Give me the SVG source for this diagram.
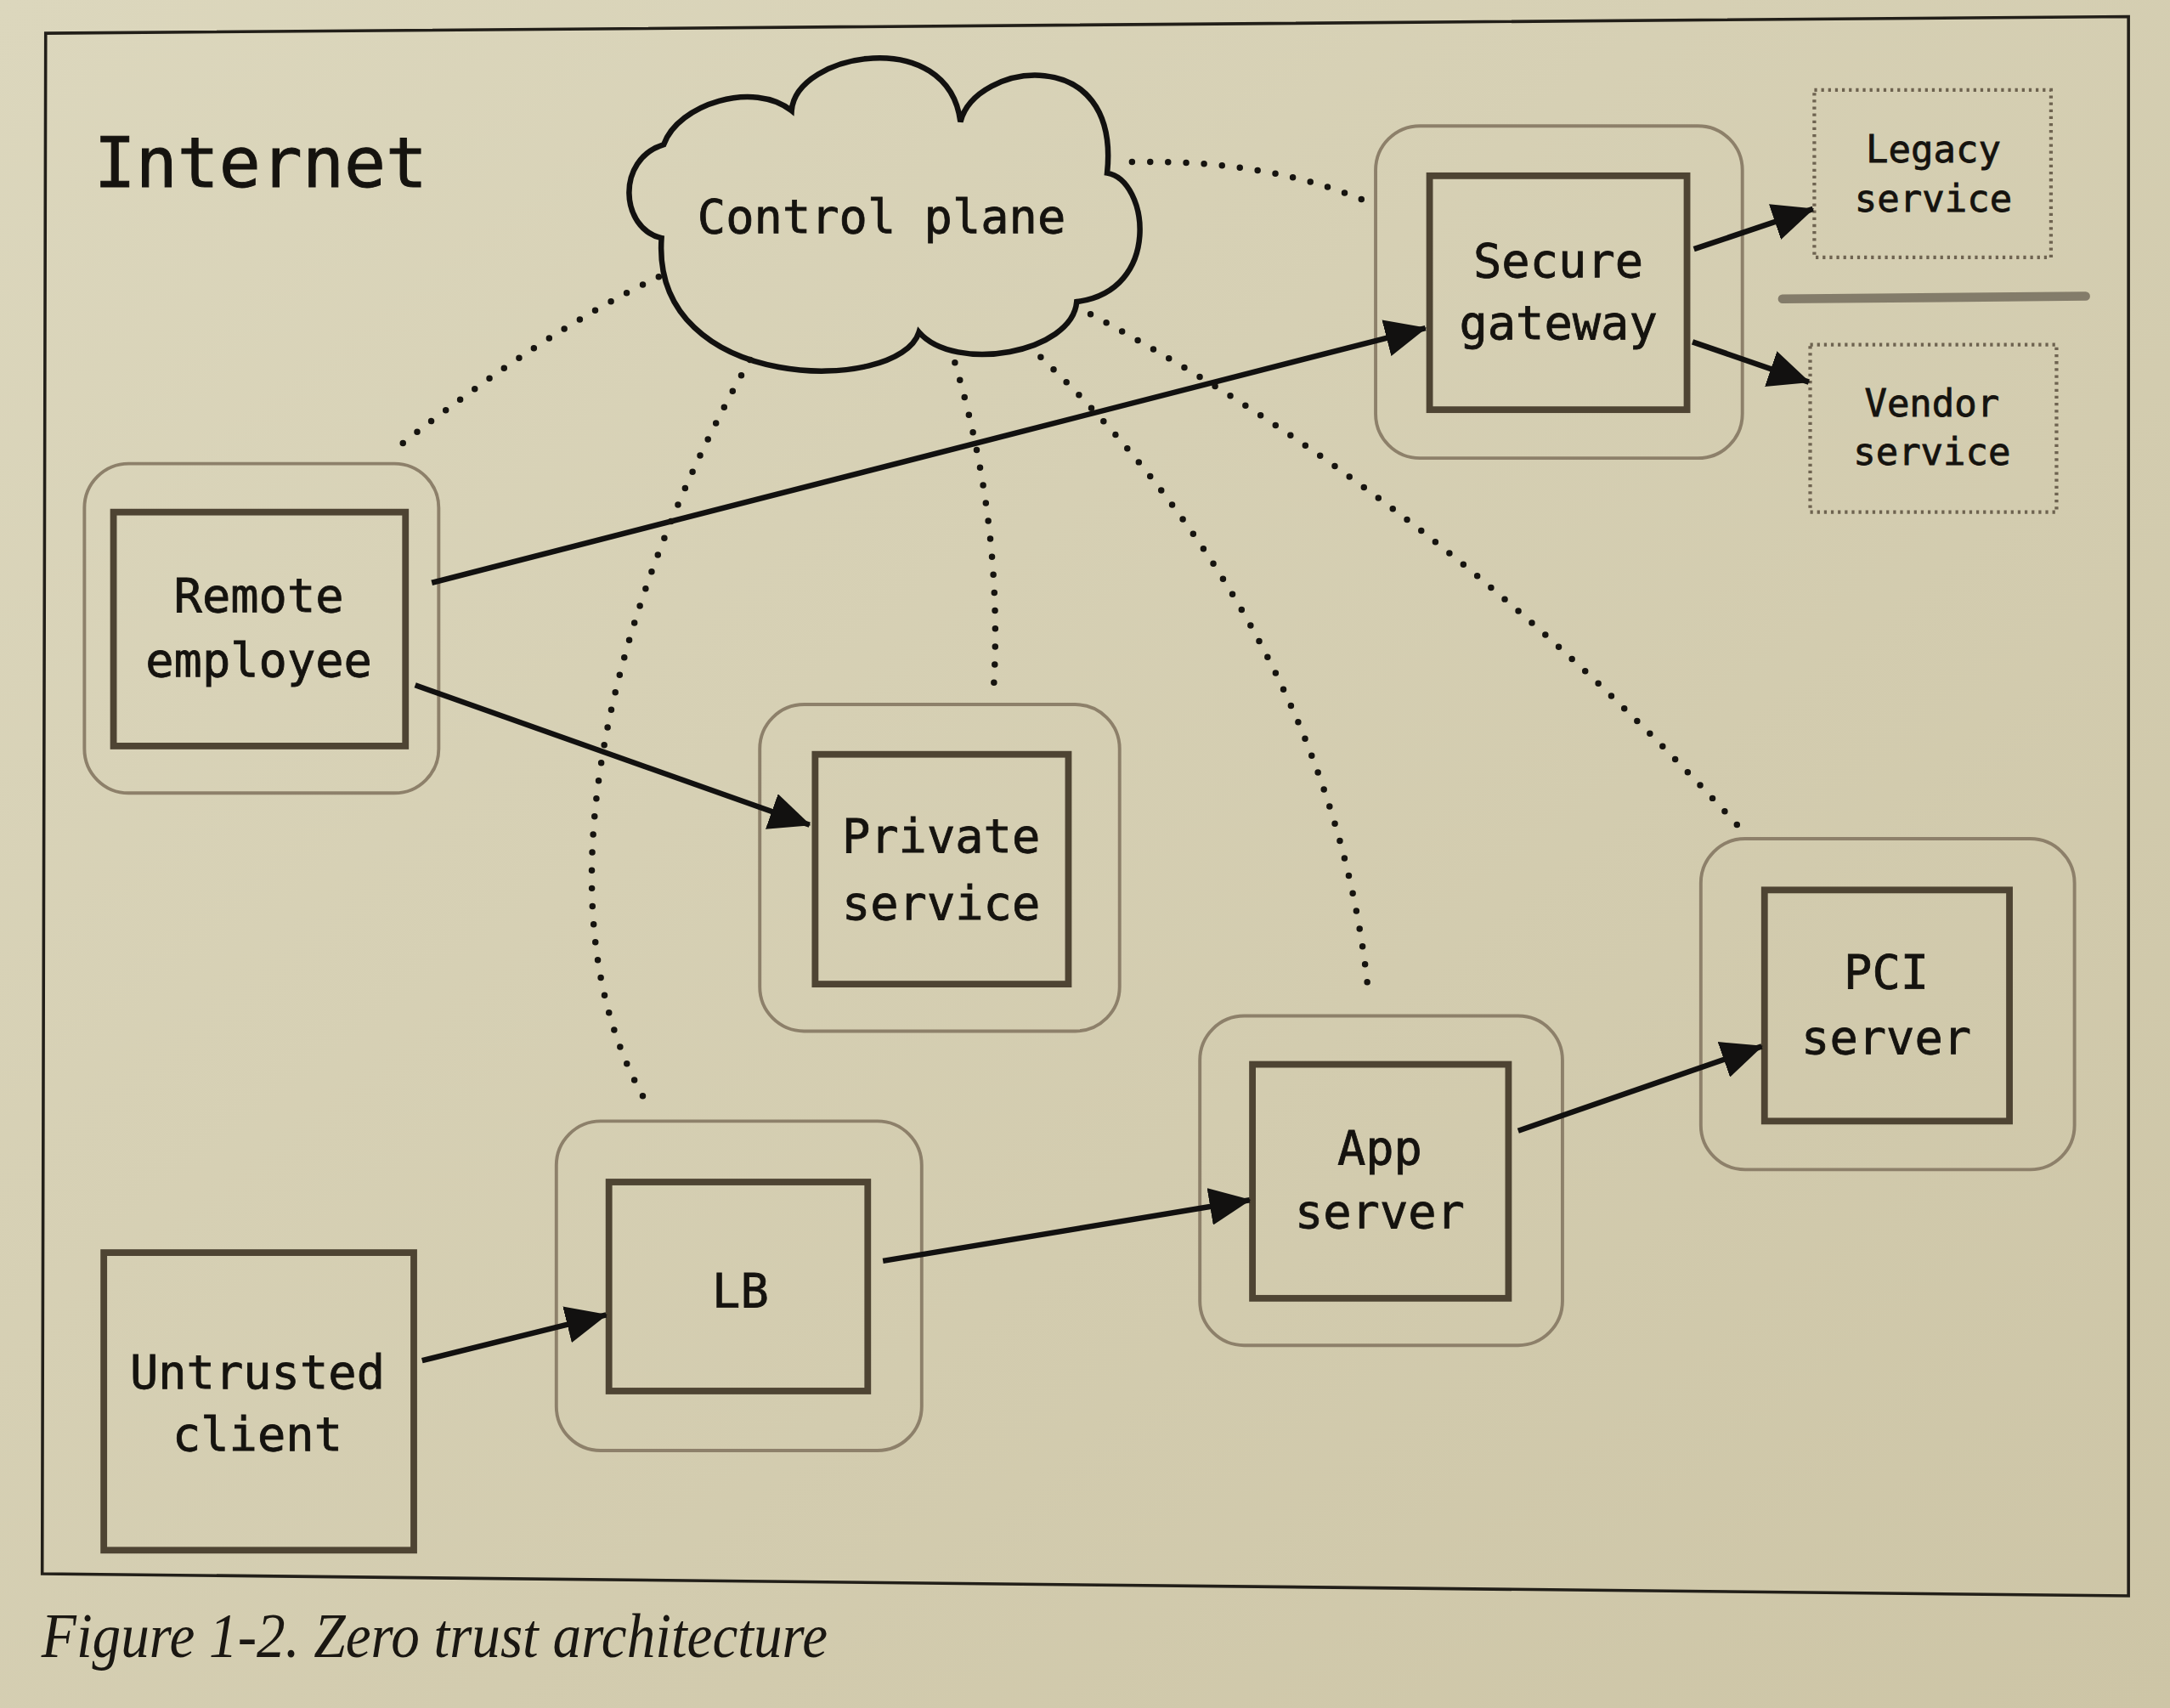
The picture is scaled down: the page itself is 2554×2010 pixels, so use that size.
<svg xmlns="http://www.w3.org/2000/svg" width="2554" height="2010" viewBox="0 0 2554 2010">
<defs>
<linearGradient id="paper" x1="0" y1="0" x2="1" y2="1">
<stop offset="0" stop-color="#dcd7bd"/>
<stop offset="1" stop-color="#cdc5a6"/>
</linearGradient>
<marker id="arrow" viewBox="0 0 30 27" refX="29" refY="13.5" markerWidth="30" markerHeight="27" markerUnits="userSpaceOnUse" orient="auto">
<path d="M0,0 L30,13.5 L0,27 Z" fill="#121110"/>
</marker>
<style>
.outer{fill:none;stroke:#8d806a;stroke-width:2.4}
.inner{fill:none;stroke:#4e4433;stroke-width:4.8}
.dotbox{fill:none;stroke:#6e6350;stroke-width:2.6;stroke-dasharray:2 3}
.lbl{font-family:"DejaVu Sans Mono","Liberation Mono",monospace;font-size:34px;fill:#15130f;stroke:#15130f;stroke-width:0.5;text-anchor:middle}
.small{font-size:27px}
.solid{fill:none;stroke:#121110;stroke-width:4;marker-end:url(#arrow)}
.dots{fill:none;stroke:#161410;stroke-width:4.6;stroke-linecap:round;stroke-dasharray:0 13}
</style>
</defs>
<rect x="0" y="0" width="2554" height="2010" fill="url(#paper)"/>
<g transform="scale(1.62883)">
<polygon id="frame" points="33,24 1538,12 1538,1153 30.5,1137" fill="none" stroke="#221f19" stroke-width="2.2"/>
<text x="68" y="135" style="font-family:'DejaVu Sans Mono','Liberation Mono',monospace;font-size:50px;fill:#15130f;stroke:#15130f;stroke-width:0.6">Internet</text>

<g id="control-plane">
<path d="M 479.6,104.4 C 490,75 545,58 572,80 C 575,38 685,18 694,88 C 705,45 810,30 800,125 C 830,130 840,210 778,218 C 775,255 690,270 664,240 C 650,285 470,285 478,172 C 448,165 445,115 479.6,104.4 Z" fill="none" stroke="#121110" stroke-width="4" stroke-linejoin="miter"/>
<text class="lbl" x="637" y="168">Control plane</text>
</g>

<g id="secure-gateway">
<rect class="outer" x="994" y="91" width="265" height="240" rx="32"/>
<rect class="inner" x="1033" y="127" width="186" height="169"/>
<text class="lbl" x="1126" y="200">Secure</text>
<text class="lbl" x="1126" y="245">gateway</text>
</g>

<g id="legacy-service">
<rect class="dotbox" x="1311" y="65" width="171" height="121"/>
<text class="lbl small" x="1397" y="117">Legacy</text>
<text class="lbl small" x="1397" y="153">service</text>
</g>

<line id="separator" x1="1288" y1="216" x2="1507" y2="214" stroke="#766e5e" stroke-width="6.5" stroke-linecap="round" opacity="0.85"/>

<g id="vendor-service">
<rect class="dotbox" x="1308" y="249" width="178" height="121"/>
<text class="lbl small" x="1396" y="301">Vendor</text>
<text class="lbl small" x="1396" y="336">service</text>
</g>

<g id="remote-employee">
<rect class="outer" x="61" y="335" width="256" height="238" rx="32"/>
<rect class="inner" x="82" y="370" width="211" height="169"/>
<text class="lbl" x="187" y="442">Remote</text>
<text class="lbl" x="187" y="489">employee</text>
</g>

<g id="private-service">
<rect class="outer" x="549" y="509" width="260" height="236" rx="32"/>
<rect class="inner" x="589" y="545" width="183" height="166"/>
<text class="lbl" x="680" y="616">Private</text>
<text class="lbl" x="680" y="664">service</text>
</g>

<g id="pci-server">
<rect class="outer" x="1229" y="606" width="270" height="239" rx="32"/>
<rect class="inner" x="1275" y="643" width="177" height="167"/>
<text class="lbl" x="1363" y="714">PCI</text>
<text class="lbl" x="1363" y="761">server</text>
</g>

<g id="app-server">
<rect class="outer" x="867" y="734" width="262" height="238" rx="32"/>
<rect class="inner" x="905" y="769" width="185" height="169"/>
<text class="lbl" x="997" y="841">App</text>
<text class="lbl" x="997" y="887">server</text>
</g>

<g id="lb">
<rect class="outer" x="402" y="810" width="264" height="238" rx="32"/>
<rect class="inner" x="440" y="854" width="187" height="151"/>
<text class="lbl" x="535" y="944">LB</text>
</g>

<g id="untrusted-client">
<rect class="inner" x="75" y="905" width="224" height="215"/>
<text class="lbl" x="186" y="1003">Untrusted</text>
<text class="lbl" x="186" y="1048">client</text>
</g>

<g id="connectors">
<path class="solid" d="M 312,421 L 1030,237"/>
<path class="solid" d="M 300,495 L 585,596"/>
<path class="solid" d="M 305,983 L 438,950"/>
<path class="solid" d="M 638,911 L 903,867"/>
<path class="solid" d="M 1097,817 L 1273,756"/>
<path class="solid" d="M 1224,180 L 1310,151"/>
<path class="solid" d="M 1223,247 L 1307,276"/>
<path class="dots" d="M 476,200 Q 392,240 285,325"/>
<path class="dots" d="M 542,260 C 450,420 380,650 468,798"/>
<path class="dots" d="M 690,262 Q 725,380 718,497"/>
<path class="dots" d="M 752,258 C 860,360 970,520 989,720"/>
<path class="dots" d="M 788,227 Q 1045,365 1258,599"/>
<path class="dots" d="M 818,117 Q 920,115 993,148"/>
</g>

<text x="30" y="1197" textLength="568" lengthAdjust="spacingAndGlyphs" style="font-family:'Liberation Serif','DejaVu Serif',serif;font-style:italic;font-size:46px;fill:#1a1712">Figure 1-2. Zero trust architecture</text>
</g>
</svg>
